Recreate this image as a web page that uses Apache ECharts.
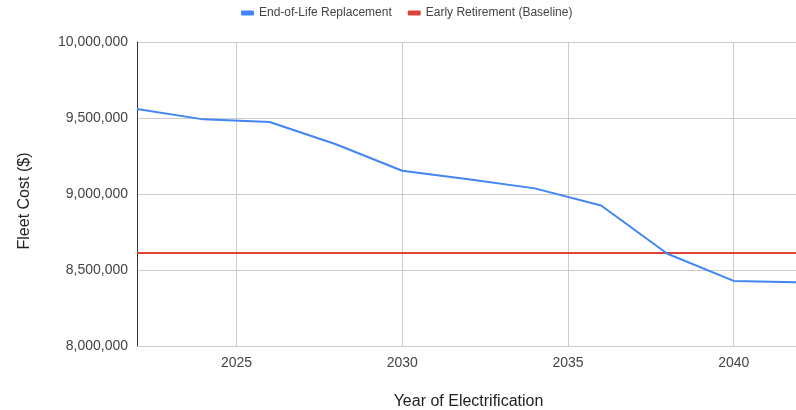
<!DOCTYPE html>
<html>
<head>
<meta charset="utf-8">
<script src="https://cdn.jsdelivr.net/npm/echarts@6/dist/echarts.min.js"></script>
<style>
html,body{margin:0;padding:0;background:#fff;}
#chart{width:796px;height:410px;}
</style>
</head>
<body>
<div id="chart"></div>
<script>
// ---- data ----
var years = [2022, 2024, 2026, 2028, 2030, 2032, 2034, 2036, 2038, 2040, 2042];
var endOfLifeCost = [9559000, 9491000, 9474000, 9327000, 9153000, 9097000, 9037000, 8924000, 8607000, 8428000, 8419000];
var baselineYears = [2022, 2042];
var baselineCost = [8612000, 8612000];
var xTickValues = [2025, 2030, 2035, 2040];
var seriesNames = ['End-of-Life Replacement', 'Early Retirement (Baseline)'];

function pairs(xs, ys) {
  var out = [];
  for (var i = 0; i < xs.length; i++) out.push([xs[i], ys[i]]);
  return out;
}

var font = '"Liberation Sans", Arial, sans-serif';
var chart = echarts.init(document.getElementById('chart'), null, {renderer: 'canvas'});
chart.setOption({
  animation: false,
  backgroundColor: '#ffffff',
  textStyle: {fontFamily: font},
  legend: {
    top: 2,
    left: 236,
    itemWidth: 13,
    itemHeight: 5,
    itemGap: 16,
    icon: 'roundRect',
    textStyle: {fontSize: 12, color: '#444444', fontFamily: font},
    data: seriesNames
  },
  grid: {left: 137, right: -4, top: 42, bottom: 64, containLabel: false, outerBoundsMode: 'none'},
  xAxis: {
    type: 'value',
    min: 2022,
    max: 2042,
    name: 'Year of Electrification',
    nameLocation: 'middle',
    nameGap: 48,
    nameTextStyle: {fontSize: 16, color: '#222222', fontFamily: font},
    axisLine: {show: true, lineStyle: {color: '#cccccc', width: 1}},
    axisTick: {show: false, customValues: xTickValues},
    axisLabel: {
      customValues: xTickValues,
      fontSize: 14, color: '#444444', fontFamily: font, margin: 10,
      formatter: function (v) { return String(v); }
    },
    splitLine: {show: true, lineStyle: {color: '#cccccc', width: 1}}
  },
  yAxis: {
    type: 'value',
    min: 8000000,
    max: 10000000,
    interval: 500000,
    name: 'Fleet Cost ($)',
    nameLocation: 'middle',
    nameRotate: 90,
    nameGap: 104,
    nameTextStyle: {fontSize: 16, color: '#222222', fontFamily: font, padding: [0, 14, 0, 0]},
    axisLine: {show: true, lineStyle: {color: '#333333', width: 1}},
    axisTick: {show: false},
    axisLabel: {
      fontSize: 14, color: '#444444', fontFamily: font, margin: 9,
      formatter: function (v) { return v.toLocaleString('en-US'); }
    },
    splitLine: {show: true, lineStyle: {color: '#cccccc', width: 1}}
  },
  series: [
    {
      name: seriesNames[0],
      type: 'line',
      data: pairs(years, endOfLifeCost),
      showSymbol: false,
      symbol: 'none',
      color: '#4285F4',
      lineStyle: {color: '#4285F4', width: 2},
      z: 3
    },
    {
      name: seriesNames[1],
      type: 'line',
      data: pairs(baselineYears, baselineCost),
      showSymbol: false,
      symbol: 'none',
      color: '#DB4437',
      lineStyle: {color: '#DB4437', width: 2},
      z: 2
    }
  ]
});
</script>
</body>
</html>
